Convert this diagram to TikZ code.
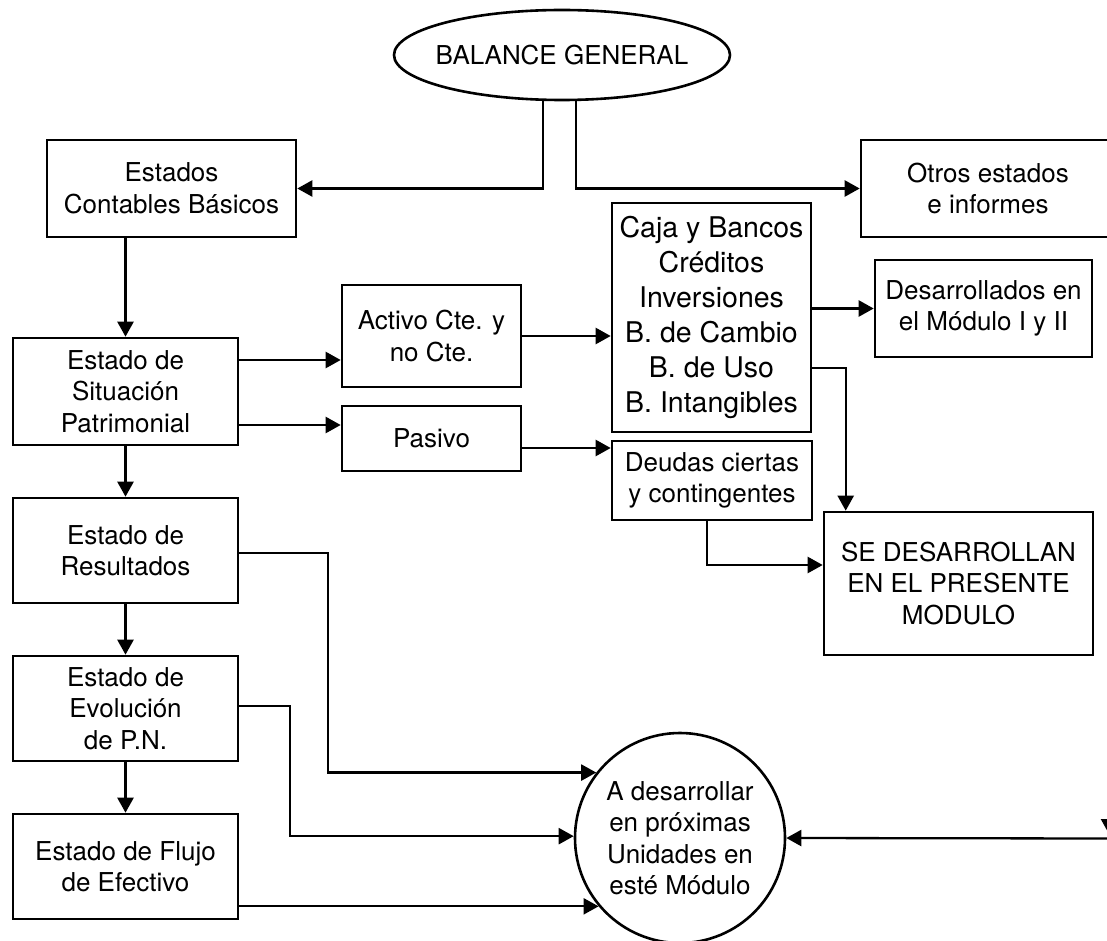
\documentclass[tikz,border=0pt]{standalone}
\usepackage{fontspec}
\setmainfont{TeX Gyre Heros}
\usetikzlibrary{arrows.meta,shapes.geometric,calc}

\begin{document}
\begin{tikzpicture}[x=1pt,y=-1pt,
  txt/.style={font=\fontsize{26}{31.5}\selectfont},
  box/.style={txt,draw,line width=2.6pt,rectangle,inner sep=2pt,align=center},
  bigbox/.style={box,font=\fontsize{28.5}{35}\selectfont},
  conn/.style={line width=2.3pt,-{Triangle[length=15pt,width=16pt]}}]

\useasboundingbox (0,0) rectangle (1107,941);

% title
\node[txt,ellipse,draw,line width=2.6pt,minimum width=336pt,minimum height=90pt,inner sep=0pt]
  (bal) at (562,55) {\makebox[0pt]{BALANCE GENERAL}};

% left column
\node[box,minimum width=249pt,minimum height=97pt] (est) at (171.5,188.5) {Estados\\Contables Básicos};
\node[box,minimum width=225pt,minimum height=107pt] (sit) at (125.5,391.5) {Estado de\\Situación\\Patrimonial};
\node[box,minimum width=225pt,minimum height=105pt] (res) at (125.5,550.5) {Estado de\\Resultados};
\node[box,minimum width=225pt,minimum height=105pt] (evo) at (125.5,708.5) {Estado de\\Evolución\\de P.N.};
\node[box,minimum width=225pt,minimum height=105pt] (flu) at (125.5,866.5) {Estado de Flujo\\de Efectivo};

% middle column
\node[box,minimum width=179pt,minimum height=102pt] (act) at (431.5,336) {Activo Cte. y\\no Cte.};
\node[box,minimum width=179pt,minimum height=65pt] (pas) at (431.5,438.5) {Pasivo};
\node[bigbox,minimum width=199pt,minimum height=229pt] (caja) at (711.5,317.5)
  {Caja y Bancos\\Créditos\\Inversiones\\B. de Cambio\\B. de Uso\\B. Intangibles};
\node[box,minimum width=200pt,minimum height=79pt] (deu) at (712,480.5) {Deudas ciertas\\y contingentes};

% right column
\node[box,minimum width=254pt,minimum height=97pt] (otros) at (988,188.5) {Otros estados\\e informes};
\node[box,minimum width=217pt,minimum height=97pt] (des) at (983.5,308.5) {Desarrollados en\\el Módulo I y II};
\node[box,minimum width=269pt,minimum height=143pt] (se) at (958.5,583.5) {SE DESARROLLAN\\EN EL PRESENTE\\MODULO};

% pending topics
\node[txt,circle,draw,line width=2.6pt,minimum size=210pt,inner sep=0pt,align=center]
  (circ) at (680,838) {A desarrollar\\en próximas\\Unidades en\\esté Módulo};

% connectors from the title
\draw[conn] ($(bal.south)+(-19,0)$) |- (est.east);
\draw[conn] ($(bal.south)+(14,0)$) |- (otros.west);

% left column chain
\draw[conn] (sit.north |- est.south) -- (sit.north);
\draw[conn] (sit.south) -- (res.north);
\draw[conn] (res.south) -- (evo.north);
\draw[conn] (evo.south) -- (flu.north);

% patrimonial breakdown
\coordinate (sA) at ($(sit.east)+(0,-31.5)$);
\draw[conn] (sA) -- (sA -| act.west);
\coordinate (sP) at ($(sit.east)+(0,33.5)$);
\draw[conn] (sP) -- (sP -| pas.west);
\draw[conn] (act.east) -- (act.east -| caja.west);
\coordinate (pD) at ($(pas.east)+(0,9.5)$);
\draw[conn] (pD) -- (pD -| deu.west);
\draw[conn] (caja.east |- des.west) -- (des.west);
\coordinate (cS) at ($(caja.east)+(0,50.5)$);
\draw[conn] (cS) -| ($(se.north west)+(23,0)$);
\draw[conn] ($(deu.south)+(-5,0)$) |- ($(se.west)+(0,-18.5)$);

% statements still to come
\draw[conn] ($(res.east)+(0,2.5)$) -- ++(89,0) |- (circ.142);
\draw[conn] ($(evo.east)+(0,-2.5)$) -- ++(51,0) |- (circ.179);
\draw[conn] (circ.220 -| flu.east) -- (circ.220);

% incoming from the right margin
\coordinate (rin) at (1116,838.5);
\draw[conn] (rin) -- (circ.east);
\coordinate (rtop) at (1109,760);
\coordinate (rbot) at (1109,834);
\draw[conn] (rtop) -- (rbot);

\end{tikzpicture}
\end{document}
